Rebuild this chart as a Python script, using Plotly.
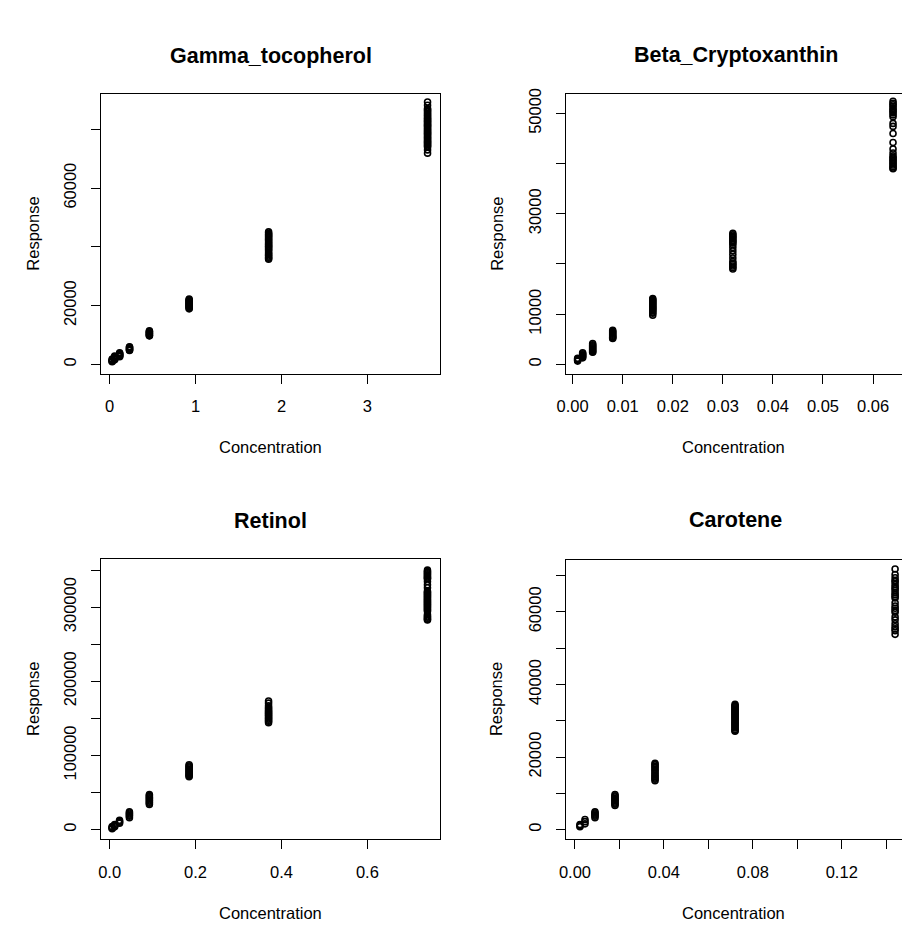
import plotly.graph_objects as go

W, H = 902, 928

# ---------------- data ----------------
gamma_conc = [0.029, 0.058, 0.116, 0.231, 0.4625, 0.925, 1.85, 3.7]
gamma_resp = [
    [1800, 1500, 1300, 1100, 900],
    [2800, 2500, 2300, 2000, 1800, 1600],
    [3900, 3700, 3500, 3200, 3000, 2800, 2600],
    [6000, 5800, 5600, 5300, 5100, 4900, 4700],
    [11400, 11200, 11000, 10700, 10500, 10300, 10000, 9800, 9700],
    [22200, 21900, 21700, 21400, 21100, 20800, 20600, 20300, 20000, 19800,
     19500, 19200, 18900],
    [45100, 44600, 44200, 43900, 43500, 43100, 42700, 42300, 41900, 41500,
     41100, 40700, 40300, 40000, 39600, 39200, 38800, 38200, 37700, 37300,
     36900, 36500, 36100, 35800],
    [89300, 88200, 87100, 86700, 86300, 85900, 85500, 85000, 84600, 84200,
     83800, 83500, 83100, 82800, 82500, 82100, 81700, 81400, 81100, 80800,
     80400, 80000, 79600, 79300, 78900, 78600, 78300, 77900, 77500, 77100,
     76800, 76400, 76000, 75700, 75400, 75000, 74700, 74300, 74000, 73000, 71900],
]

beta_conc = [0.001, 0.002, 0.004, 0.008, 0.016, 0.032, 0.064]
beta_resp = [
    [1200, 1050, 900, 800, 650],
    [2300, 2100, 1900, 1700, 1500, 1300],
    [4150, 3900, 3700, 3500, 3300, 3100, 2900, 2700, 2500, 2400],
    [6800, 6600, 6400, 6200, 6000, 5800, 5600, 5450, 5300, 5150],
    [13100, 12900, 12700, 12500, 12300, 12100, 11900, 11700, 11500, 11300,
     11100, 10900, 10700, 10400, 10200, 9800],
    [26100, 25800, 25500, 25300, 25000, 24700, 24500, 24200, 23900, 23300,
     22600, 21900, 21200, 20500, 20200, 19900, 19600, 19300, 19000],
    [52400, 52000, 51700, 51400, 51000, 50700, 50400, 50100, 49700, 49300,
     48000, 47400, 46000, 44200, 42900, 42100, 41500, 41200, 40900, 40600,
     40300, 40000, 39700, 39400, 39100, 38950],
]

retinol_conc = [0.0058, 0.0116, 0.023, 0.046, 0.0925, 0.185, 0.37, 0.74]
retinol_resp = [
    [4000, 3000, 2100, 1300],
    [6700, 5800, 4900, 4000],
    [12700, 11300, 10000, 8700],
    [24000, 22500, 21000, 19500, 18000, 16000],
    [47400, 46000, 44500, 43000, 41500, 40000, 38500, 37000, 35500, 34000],
    [87400, 86000, 84500, 83000, 81500, 80000, 78500, 77000, 75500, 74000,
     72500, 71400],
    [173500, 170500, 167000, 164500, 162800, 161000, 159500, 158000, 156500,
     155000, 153500, 152000, 150500, 149000, 147500, 146000, 144200],
    [349800, 348000, 346500, 345000, 343500, 342000, 340500, 339000, 338200,
     334500, 330000, 326000, 321500, 320000, 318500, 317000, 315500, 314000,
     312500, 311000, 309500, 308000, 306500, 305000, 303500, 302000, 300500,
     299000, 297500, 296000, 294500, 290000, 288000, 286500, 285000, 283500, 282600],
]

carotene_conc = [0.00225, 0.0045, 0.009, 0.018, 0.036, 0.072, 0.144]
carotene_resp = [
    [1400, 1100, 800],
    [2800, 2200, 1600],
    [4900, 4600, 4300, 4000, 3700, 3300],
    [9700, 9300, 9000, 8600, 8300, 8000, 7600, 7300, 7000, 6650],
    [18300, 17900, 17500, 17100, 16700, 16300, 15900, 15400, 15000, 14600,
     14200, 13900, 13500],
    [34500, 34200, 33900, 33600, 33300, 33000, 32700, 32400, 32100, 31800,
     31500, 31200, 30900, 30600, 30300, 30000, 29600, 29300, 29000, 28600,
     28300, 28000, 27600, 27300, 27100],
    [71800, 70300, 69400, 68600, 68300, 67500, 66900, 66400, 65900, 65200,
     64700, 64200, 63800, 62500, 61600, 61000, 60400, 59900, 58600, 57800,
     56700, 55900, 55300, 54800, 53800],
]

titles = ["Gamma_tocopherol", "Beta_Cryptoxanthin", "Retinol", "Carotene"]
x_label = "Concentration"
y_label = "Response"

gamma_xticks = [0, 1, 2, 3]
gamma_xtext = ["0", "1", "2", "3"]
gamma_yticks = [0, 20000, 40000, 60000, 80000]
gamma_ytext = ["0", "20000", "", "60000", ""]

beta_xticks = [0.0, 0.01, 0.02, 0.03, 0.04, 0.05, 0.06]
beta_xtext = ["0.00", "0.01", "0.02", "0.03", "0.04", "0.05", "0.06"]
beta_yticks = [0, 10000, 20000, 30000, 40000, 50000]
beta_ytext = ["0", "10000", "", "30000", "", "50000"]

retinol_xticks = [0.0, 0.2, 0.4, 0.6]
retinol_xtext = ["0.0", "0.2", "0.4", "0.6"]
retinol_yticks = [0, 50000, 100000, 150000, 200000, 250000, 300000, 350000]
retinol_ytext = ["0", "", "100000", "", "200000", "", "300000", ""]

carotene_xticks = [0.0, 0.02, 0.04, 0.06, 0.08, 0.10, 0.12, 0.14]
carotene_xtext = ["0.00", "", "0.04", "", "0.08", "", "0.12", ""]
carotene_yticks = [0, 10000, 20000, 30000, 40000, 50000, 60000, 70000]
carotene_ytext = ["0", "", "20000", "", "40000", "", "60000", ""]

# ---------------- layout (pixel boxes) ----------------
panels = [
    dict(conc=gamma_conc, resp=gamma_resp, xr=[-0.1037, 3.849], yr=[-3145, 92126],
         xt=gamma_xticks, xl=gamma_xtext, yt=gamma_yticks, yl=gamma_ytext,
         box=(92.7, 88.3, 435.7, 370.0), full=True),
    dict(conc=beta_conc, resp=beta_resp, xr=[-0.00131, 0.06579], yr=[-1840, 53770],
         xt=beta_xticks, xl=beta_xtext, yt=beta_yticks, yl=beta_ytext,
         box=(562.7, 89.0, 902.0, 370.0), full=False),
    dict(conc=retinol_conc, resp=retinol_resp, xr=[-0.0207, 0.770], yr=[-12455, 364700],
         xt=retinol_xticks, xl=retinol_xtext, yt=retinol_yticks, yl=retinol_ytext,
         box=(92.7, 556.7, 435.7, 838.3), full=True),
    dict(conc=carotene_conc, resp=carotene_resp, xr=[-0.0040, 0.1471], yr=[-2545, 74364],
         xt=carotene_xticks, xl=carotene_xtext, yt=carotene_yticks, yl=carotene_ytext,
         box=(562.7, 557.3, 902.0, 838.3), full=False),
]

title_pos = [(264.2, 50.0), (734.2, 49.3), (264.2, 518.3), (734.2, 517.3)]
ylab_pos = [(24.2, 229.2), (492.7, 229.5), (24.2, 697.5), (492.7, 697.8)]
xlab_pos = [(264.2, 444.0), (732.3, 444.0), (264.2, 913.3), (732.3, 913.3)]

FONT = "Liberation Sans, Arial, sans-serif"
TICK_SIZE = 16.5


def px(x):
    return x / W


def py(y):
    return 1 - y / H


fig = go.Figure()
layout = dict(
    width=W, height=H,
    margin=dict(l=0, r=0, t=0, b=0),
    paper_bgcolor="white", plot_bgcolor="white",
    showlegend=False,
    font=dict(family=FONT, color="black", size=TICK_SIZE),
    annotations=[],
)

for i, p in enumerate(panels):
    n = "" if i == 0 else str(i + 1)
    xs, ys = [], []
    for c, rs in zip(p["conc"], p["resp"]):
        for r in rs:
            xs.append(c)
            ys.append(r)
    fig.add_trace(go.Scatter(
        x=xs, y=ys, mode="markers", xaxis="x" + n, yaxis="y" + n,
        marker=dict(symbol="circle-open", size=6, color="black",
                    line=dict(width=1.6, color="black")),
        hoverinfo="x+y",
    ))
    x0, y0, x1, y1 = p["box"]
    common = dict(showgrid=False, zeroline=False, showline=True, linecolor="black",
                  linewidth=1, ticks="outside", ticklen=9, tickwidth=1,
                  tickcolor="black", tickfont=dict(family=FONT, size=TICK_SIZE, color="black"),
                  tickmode="array")
    layout["xaxis" + n] = dict(common, domain=[px(x0), px(x1)], range=p["xr"],
                               anchor="y" + n, tickvals=p["xt"], ticktext=p["xl"],
                               mirror=True, ticklabelstandoff=9)
    layout["yaxis" + n] = dict(common, domain=[py(y1), py(y0)], range=p["yr"],
                               anchor="x" + n, tickvals=p["yt"], ticktext=p["yl"],
                               tickangle=-90, mirror=p["full"], ticklabelstandoff=8)

for i in range(4):
    tx, ty = title_pos[i]
    layout["annotations"].append(dict(
        text="<b>" + titles[i] + "</b>", x=px(tx), y=py(ty), xref="paper", yref="paper",
        xanchor="center", yanchor="middle", showarrow=False,
        font=dict(family=FONT, size=21.5, color="black")))
    lx, ly = ylab_pos[i]
    layout["annotations"].append(dict(
        text=y_label, x=px(lx), y=py(ly), xref="paper", yref="paper",
        xanchor="center", yanchor="middle", showarrow=False, textangle=-90,
        font=dict(family=FONT, size=TICK_SIZE, color="black")))
    cx, cy = xlab_pos[i]
    layout["annotations"].append(dict(
        text=x_label, x=px(cx), y=py(cy), xref="paper", yref="paper",
        xanchor="center", yanchor="middle", showarrow=False,
        font=dict(family=FONT, size=TICK_SIZE, color="black")))

fig.update_layout(**layout)
fig.write_html("out.html")
